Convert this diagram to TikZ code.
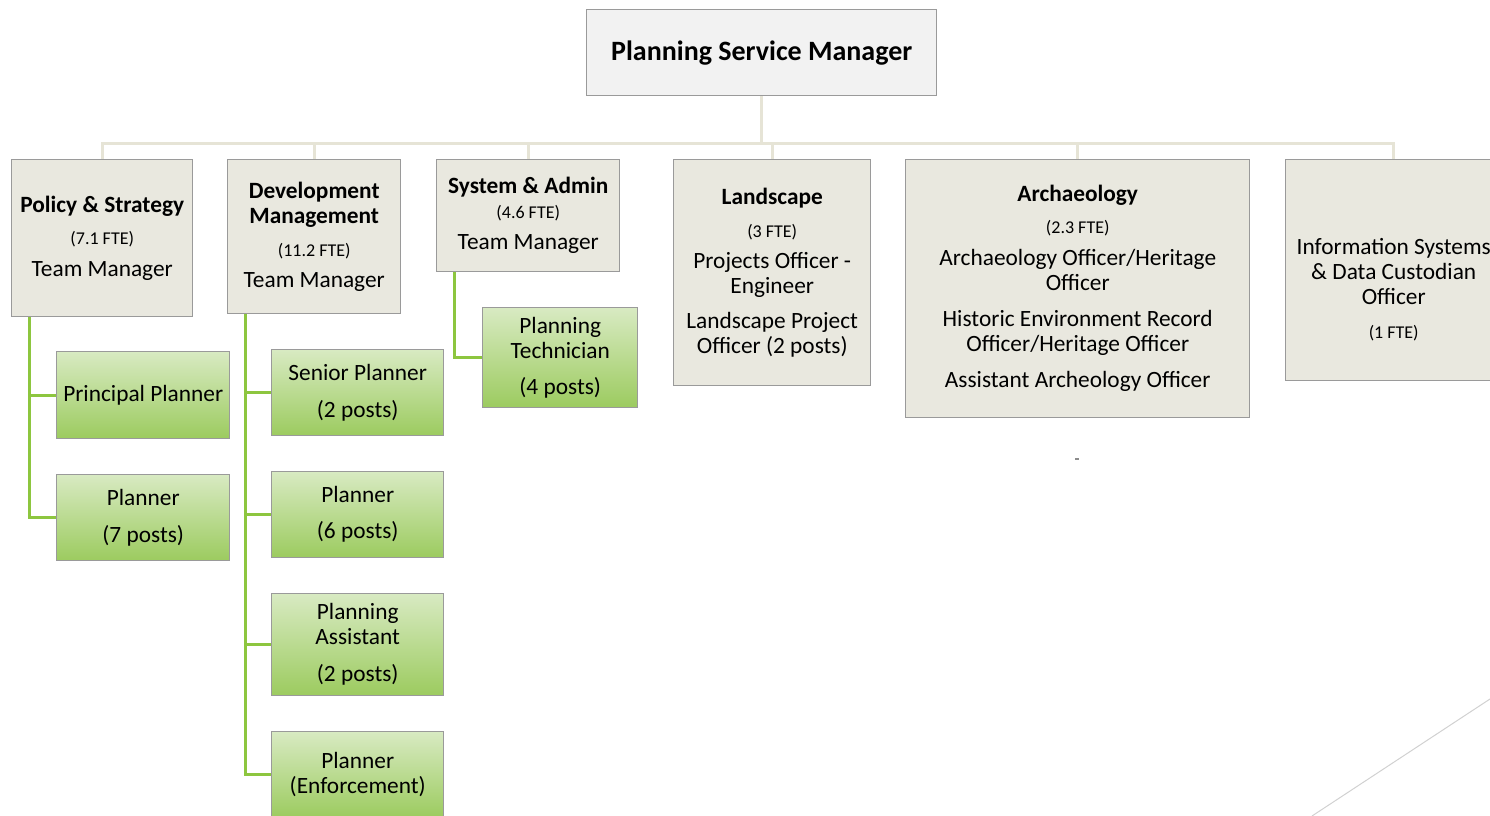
\documentclass[tikz,border=0pt]{standalone}
\usepackage{fontspec}
\setmainfont{Carlito}
\definecolor{boxgray}{HTML}{F2F2F2}
\definecolor{boxbeige}{HTML}{E9E8DF}
\definecolor{edgegray}{HTML}{9A9A9A}
\definecolor{linebeige}{HTML}{E6E4D6}
\definecolor{linegreen}{HTML}{8DC63F}
\definecolor{greentop}{HTML}{D8EAC2}
\definecolor{greenbot}{HTML}{9CCB5F}
\tikzset{
  headbox/.style={draw=edgegray, line width=1.1pt, fill=boxgray, anchor=north west,
    inner sep=0pt, align=center, font=\fontsize{21}{24}\selectfont\bfseries},
  teambox/.style={draw=edgegray, line width=1.1pt, fill=boxbeige, anchor=north west,
    inner sep=0pt, align=center, font=\fontsize{17.5}{18.75}\selectfont},
  postbox/.style={draw=edgegray, line width=1.1pt, top color=greentop, bottom color=greenbot,
    anchor=north west, inner sep=0pt, align=center, font=\fontsize{17.5}{18.75}\selectfont},
  boxtext/.style={inner sep=0pt, align=center, font=\fontsize{17.5}{18.75}\selectfont},
  topline/.style={draw=linebeige, line width=2.25pt},
  subline/.style={draw=linegreen, line width=2.25pt},
}
\newcommand{\fte}[1]{{\fontsize{13.5}{18.75}\selectfont(#1)}}

\begin{document}
\begin{tikzpicture}[x=0.75pt,y=-0.75pt]
    \useasboundingbox (0,0) rectangle (1490,816);

    % manager
    \node[headbox, minimum width=262.5pt, minimum height=64.5pt] (psm) at (586,9) {Planning Service Manager};

    % teams
    \node[teambox, minimum width=135.75pt, minimum height=117.75pt] (policy) at (11,159)
        {\textbf{Policy \& Strategy}\\[5.25pt]\fte{7.1 FTE}\\[5.25pt]Team Manager};
    \node[teambox, minimum width=129.75pt, minimum height=115.5pt] (devman) at (227,159)
        {\textbf{Development}\\\textbf{Management}\\[6pt]\fte{11.2 FTE}\\[4.5pt]Team Manager};
    \node[teambox, minimum width=137.25pt, minimum height=84pt] (sysadmin) at (436,159)
        {\textbf{System \& Admin}\\\fte{4.6 FTE}\\[4.5pt]Team Manager};
    \node[teambox, minimum width=147.75pt, minimum height=169.5pt] (landscape) at (673,159)
        {\textbf{Landscape}\\[6pt]\fte{3 FTE}\\[4.5pt]Projects Officer -\\Engineer\\[7.5pt]Landscape Project\\Officer (2 posts)};
    \node[teambox, minimum width=258pt, minimum height=193.5pt] (archaeology) at (905,159)
        {\textbf{Archaeology}\\[5.25pt]\fte{2.3 FTE}\\[5.25pt]Archaeology Officer/Heritage\\Officer\\[8.25pt]Historic Environment Record\\Officer/Heritage Officer\\[8.25pt]Assistant Archeology Officer};
    \node[teambox, minimum width=162pt, minimum height=165.75pt] (infosys) at (1285,159) {};
    \node[boxtext] (infotext) at ([yshift=-14.25pt]infosys.center)
        {Information Systems\\\& Data Custodian\\Officer\\[6.75pt]\fte{1 FTE}};

    % posts
    \node[postbox, minimum width=129.75pt, minimum height=65.25pt] (principal) at (56,351) {Principal Planner};
    \node[postbox, minimum width=129.75pt, minimum height=64.5pt] (plannerseven) at (56,474) {Planner\\[9pt](7 posts)};
    \node[postbox, minimum width=129pt, minimum height=64.5pt] (senior) at (271,349) {Senior Planner\\[9pt](2 posts)};
    \node[postbox, minimum width=129pt, minimum height=64.5pt] (plannersix) at (271,471) {Planner\\[8.25pt](6 posts)};
    \node[postbox, minimum width=129pt, minimum height=76.5pt] (assistant) at (271,593) {Planning\\Assistant\\[9pt](2 posts)};
    \node[postbox, minimum width=129pt, minimum height=64.5pt] (enforce) at (271,731) {Planner\\(Enforcement)};
    \node[postbox, minimum width=116.25pt, minimum height=75pt] (technician) at (482,307) {Planning\\Technician\\[8.25pt](4 posts)};

    % connectors
    \foreach \t in {policy,devman,sysadmin,landscape,archaeology,infosys}
        \draw[topline] (psm.south) -- ++(0,47) -| (\t.north);
    \foreach \p in {principal,plannerseven}
        \draw[subline] ([xshift=13.5pt]policy.south west) |- (\p.west);
    \foreach \p in {senior,plannersix,assistant,enforce}
        \draw[subline] ([xshift=13.5pt]devman.south west) |- (\p.west);
    \draw[subline] ([xshift=13.5pt]sysadmin.south west) |- (technician.west);

    % stray marks
    \draw[black!18, line width=0.75pt] (1312,816) -- (1490,699);
    \fill[black!45] (1075,458) rectangle (1079,460);
\end{tikzpicture}
\end{document}
